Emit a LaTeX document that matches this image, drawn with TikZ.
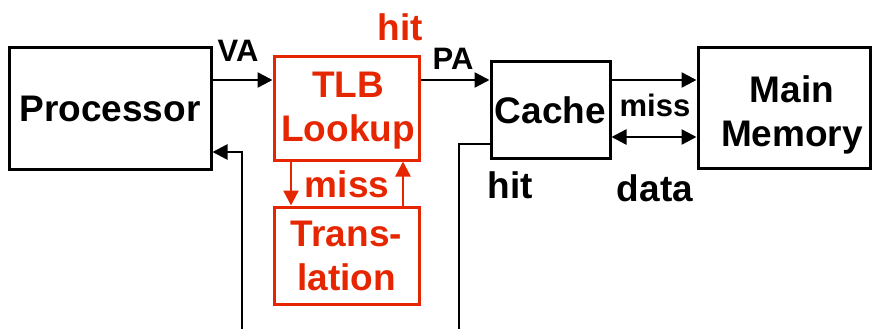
\documentclass[tikz,border=0pt]{standalone}
\usepackage{fontspec}
\setmainfont{Liberation Sans}
\usetikzlibrary{arrows.meta,calc}
\definecolor{tlbred}{RGB}{230,38,0}
\tikzset{
  box/.style={draw=black,line width=3pt,rectangle,inner sep=0pt,align=center,
    font=\fontsize{37}{44}\selectfont\bfseries},
  redbox/.style={box,draw=tlbred,text=tlbred},
  tip/.tip={Triangle[length=15pt,width=15pt]},
  arr/.style={line width=2.5pt,-tip},
  darr/.style={line width=2.5pt,tip-tip},
  redarr/.style={arr,draw=tlbred,color=tlbred},
  plain/.style={line width=2.5pt},
  biglbl/.style={inner sep=0pt,align=center,font=\fontsize{37}{44}\selectfont\bfseries},
  smalllbl/.style={inner sep=0pt,font=\fontsize{31}{36}\selectfont\bfseries}
}
\begin{document}
\begin{tikzpicture}[x=1pt,y=-1pt]
\useasboundingbox (0,0) rectangle (873,329);
\node[box,minimum width=202pt,minimum height=121pt] (proc) at (110,108.5) {Processor};
\node[redbox,minimum width=145pt,minimum height=103pt] (tlb) at (346.5,108.5) {};
\node[biglbl,text=tlbred] (tlbtxt) at (348,111) {TLB\\Lookup};
\node[redbox,minimum width=145pt,minimum height=97pt] (trans) at (346.5,255.5) {Trans-\\lation};
\node[box,minimum width=119pt,minimum height=96pt] (cache) at (550.5,110) {Cache};
\node[box,minimum width=172pt,minimum height=120pt] (mem) at (784,108) {};
\node[biglbl] (memtxt) at (792,115) {Main\\Memory};
\coordinate (pbot) at (242,329);
\coordinate (cbot) at (459,329);
% connectors
\draw[arr] ([yshift=28.5pt]proc.east) -- ([yshift=28.5pt]proc.east -| tlb.west);
\draw[arr] ([yshift=28.5pt]tlb.east) -- ([yshift=28.5pt]tlb.east -| cache.west);
\draw[arr] (pbot) |- ([yshift=-43.5pt]proc.east);
\draw[plain] ([yshift=-34pt]cache.west) -| (cbot);
\draw[redarr] ([xshift=-55.5pt]tlb.south) -- ([xshift=-55.5pt]trans.north);
\draw[redarr] ([xshift=56.5pt]trans.north) -- ([xshift=56.5pt]tlb.south);
\draw[arr] ([yshift=30pt]cache.east) -- ([yshift=30pt]cache.east -| mem.west);
\draw[darr] ([yshift=-27pt]cache.east) -- ([yshift=-27pt]cache.east -| mem.west);
% labels
\node[smalllbl] (va) at (238,51) {VA};
\node[smalllbl] (pa) at (453,59) {PA};
\node[biglbl,text=tlbred] (hitr) at (400,27) {hit};
\node[biglbl,text=tlbred] (missr) at (347,184) {miss};
\node[biglbl] (hitb) at (510,185) {hit};
\node[smalllbl] (missb) at (655,105) {miss};
\node[biglbl] (data) at (655,188) {data};
\end{tikzpicture}
\end{document}
